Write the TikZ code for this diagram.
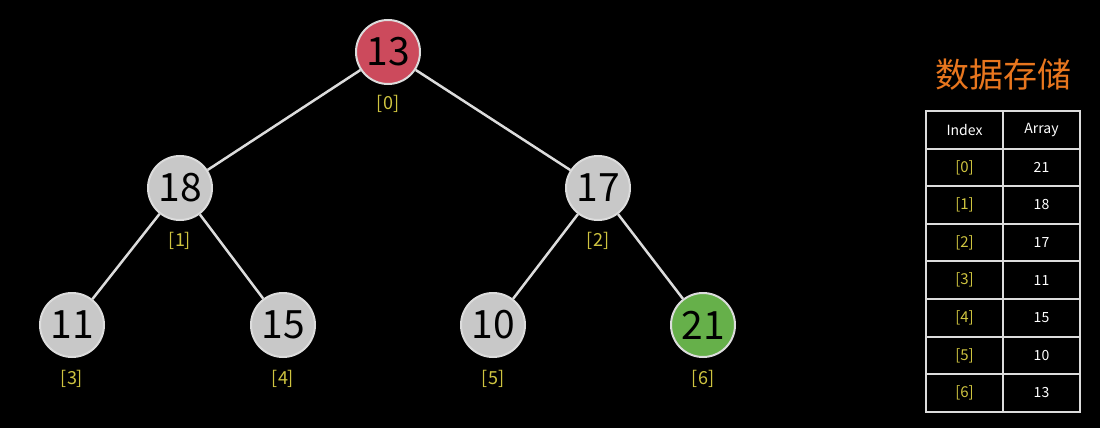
\documentclass[tikz,border=0pt]{standalone}
\usepackage{fontspec}
\setmainfont{Noto Sans CJK SC}
\begin{document}
\begin{tikzpicture}[x=1pt,y=-1pt,
  every node/.style={inner sep=0pt},
  nd/.style={circle,draw=edgec,line width=2pt,minimum size=64pt,font=\fontsize{39}{39}\selectfont,text=black},
  gnd/.style={nd,fill=nodegray},
  rnd/.style={nd,fill=noder},
  grn/.style={nd,fill=nodeg},
  idx/.style={text=idxc,font=\fontsize{18}{18}\selectfont},
  edge/.style={draw=edgec,line width=2.5pt},
  cell/.style={draw=edgec,line width=2pt,minimum width=77pt,minimum height=37.6pt,font=\fontsize{14}{14}\selectfont,text=white},
  icell/.style={cell,text=idxc,font=\fontsize{15}{15}\selectfont}
]
\definecolor{edgec}{HTML}{DCDCDC}
\definecolor{nodegray}{HTML}{C8C8C8}
\definecolor{noder}{HTML}{CC4A5C}
\definecolor{nodeg}{HTML}{66B04A}
\definecolor{idxc}{HTML}{CFC440}
\definecolor{titlec}{HTML}{E8761E}
\fill[black] (0,0) rectangle (1100,428);
\useasboundingbox (0,0) rectangle (1100,428);

\node[rnd] (n0) at (388,52) {13};
\node[gnd] (n1) at (180,188) {18};
\node[gnd] (n2) at (598,188) {17};
\node[gnd] (n3) at (72,325) {11};
\node[gnd] (n4) at (283,325) {15};
\node[gnd] (n5) at (493,325) {10};
\node[grn] (n6) at (703,325) {21};

\draw[edge] (n0) -- (n1);
\draw[edge] (n0) -- (n2);
\draw[edge] (n1) -- (n3);
\draw[edge] (n1) -- (n4);
\draw[edge] (n2) -- (n5);
\draw[edge] (n2) -- (n6);

\node[idx] (l0) at (388,104) {[0]};
\node[idx] (l1) at (180,241) {[1]};
\node[idx] (l2) at (598,241) {[2]};
\node[idx] (l3) at (72,379) {[3]};
\node[idx] (l4) at (283,379) {[4]};
\node[idx] (l5) at (493,379) {[5]};
\node[idx] (l6) at (703,379) {[6]};

\node[text=titlec,font=\fontsize{34}{34}\selectfont] (title) at (1003,75) {数据存储};

\node[cell] (h1) at (964.5,129.8) {Index};
\node[cell] (h2) at (1041.5,129.8) {Array};
\foreach \i/\v in {0/21,1/18,2/17,3/11,4/15,5/10,6/13}{
  \node[icell] (i\i) at (964.5,{167.4+37.6*\i}) {[\i]};
  \node[cell] (a\i) at (1041.5,{167.4+37.6*\i}) {\v};
}
\end{tikzpicture}
\end{document}
